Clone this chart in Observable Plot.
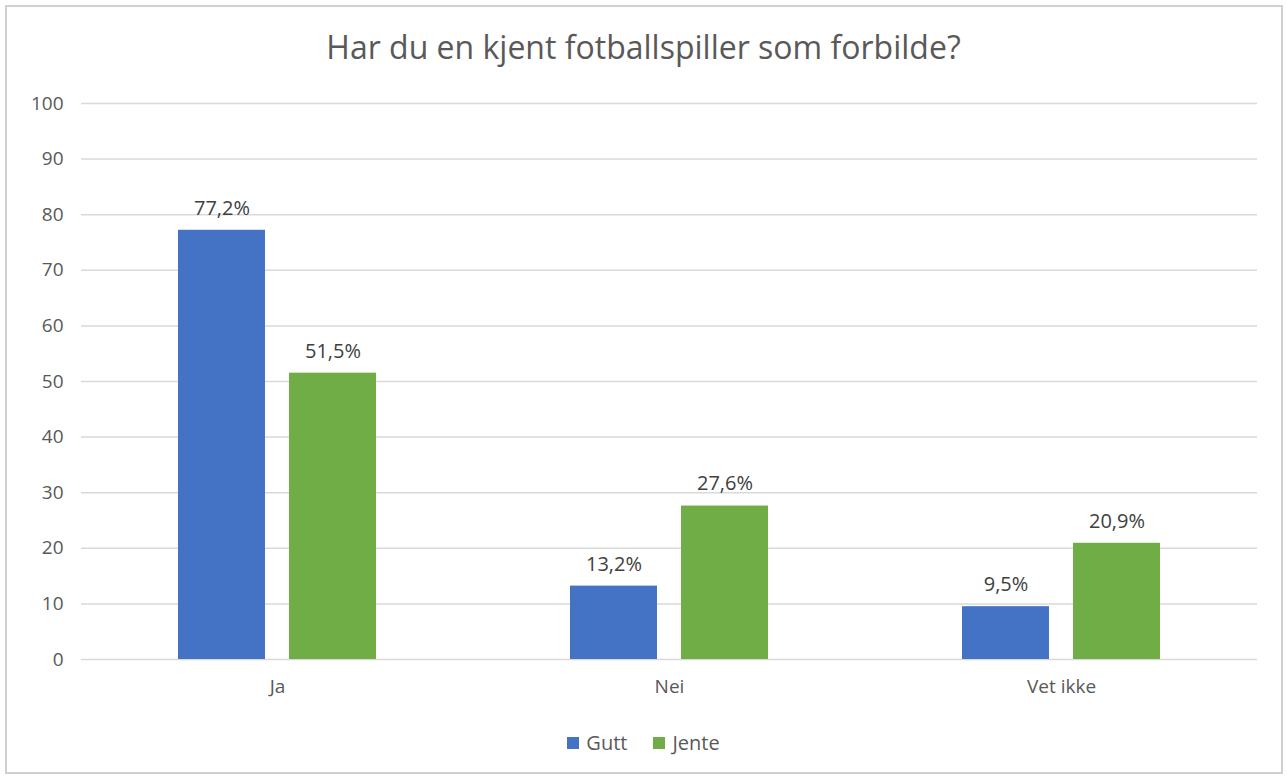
<!DOCTYPE html>
<html>
<head>
<meta charset="utf-8">
<script src="https://cdn.jsdelivr.net/npm/d3@7"></script>
<script src="https://cdn.jsdelivr.net/npm/@observablehq/plot@0.6"></script>
<style>
  html, body { margin: 0; padding: 0; background: #fff; }
  #wrap { position: relative; width: 1287px; height: 778px; font-family: "Open Sans", sans-serif; overflow: hidden; }
  #frame { position: absolute; left: 5px; top: 5px; width: 1278px; height: 769px; border: 2px solid #d0d0d0; box-sizing: border-box; }
  #title { position: absolute; left: 0; top: 26px; width: 1287px; text-align: center; font-size: 32px; color: #595959; line-height: 42px; }
  #chart { position: absolute; left: 0; top: 80px; }
  #legend { position: absolute; left: 0; top: 729px; width: 1287px; display: flex; justify-content: center; gap: 26px; font-size: 20px; color: #595959; line-height: 28px; }
  #legend span.item { display: flex; align-items: center; }
  #legend span.sw { display: inline-block; width: 12px; height: 12px; margin-right: 7px; }
</style>
</head>
<body>
<div id="wrap">
  <div id="frame"></div>
  <div id="title">Har du en kjent fotballspiller som forbilde?</div>
  <div id="chart"></div>
  <div id="legend"></div>
</div>
<script>
const categories = ["Ja", "Nei", "Vet ikke"];
const series = ["Gutt", "Jente"];
const gutt = [77.2, 13.2, 9.5];
const jente = [51.5, 27.6, 20.9];
const colors = ["#4472C4", "#70AD47"];
const yTicks = [0, 10, 20, 30, 40, 50, 60, 70, 80, 90, 100];

const data = [];
categories.forEach((c, i) => {
  data.push({cat: c, grp: "Gutt", v: gutt[i]});
  data.push({cat: c, grp: "Jente", v: jente[i]});
});
const fmt = v => v.toFixed(1).replace(".", ",") + "%";

const plot = Plot.plot({
  width: 1287,
  height: 640,
  marginLeft: 80,
  marginRight: 29,
  marginTop: 23,
  marginBottom: 61,
  style: {fontFamily: "Open Sans, sans-serif", fontSize: "20px", color: "#595959", background: "transparent"},
  fx: {domain: categories, paddingInner: 0, paddingOuter: 0, label: null},
  x: {domain: series, paddingInner: 0.214, paddingOuter: 0.86, axis: null},
  y: {domain: [0, 100], label: null},
  color: {domain: series, range: colors},
  marks: [
    Plot.ruleY(yTicks, {stroke: "#d9d9d9", strokeWidth: 1.5}),
    Plot.axisY({ticks: yTicks, tickSize: 0, tickPadding: 18, fill: "#595959", fontSize: 19, label: null}),
    Plot.axisFx({anchor: "bottom", tickSize: 0, tickPadding: 20, fill: "#595959", fontSize: 19, label: null}),
    Plot.barY(data, {fx: "cat", x: "grp", y: "v", fill: "grp"}),
    Plot.text(data, {fx: "cat", x: "grp", y: "v", text: d => fmt(d.v), dy: -22, fill: "#404040", fontSize: 20})
  ]
});
document.getElementById("chart").appendChild(plot);

const legend = document.getElementById("legend");
series.forEach((s, i) => {
  const item = document.createElement("span");
  item.className = "item";
  const sw = document.createElement("span");
  sw.className = "sw";
  sw.style.background = colors[i];
  item.appendChild(sw);
  item.appendChild(document.createTextNode(s));
  legend.appendChild(item);
});
</script>
</body>
</html>
